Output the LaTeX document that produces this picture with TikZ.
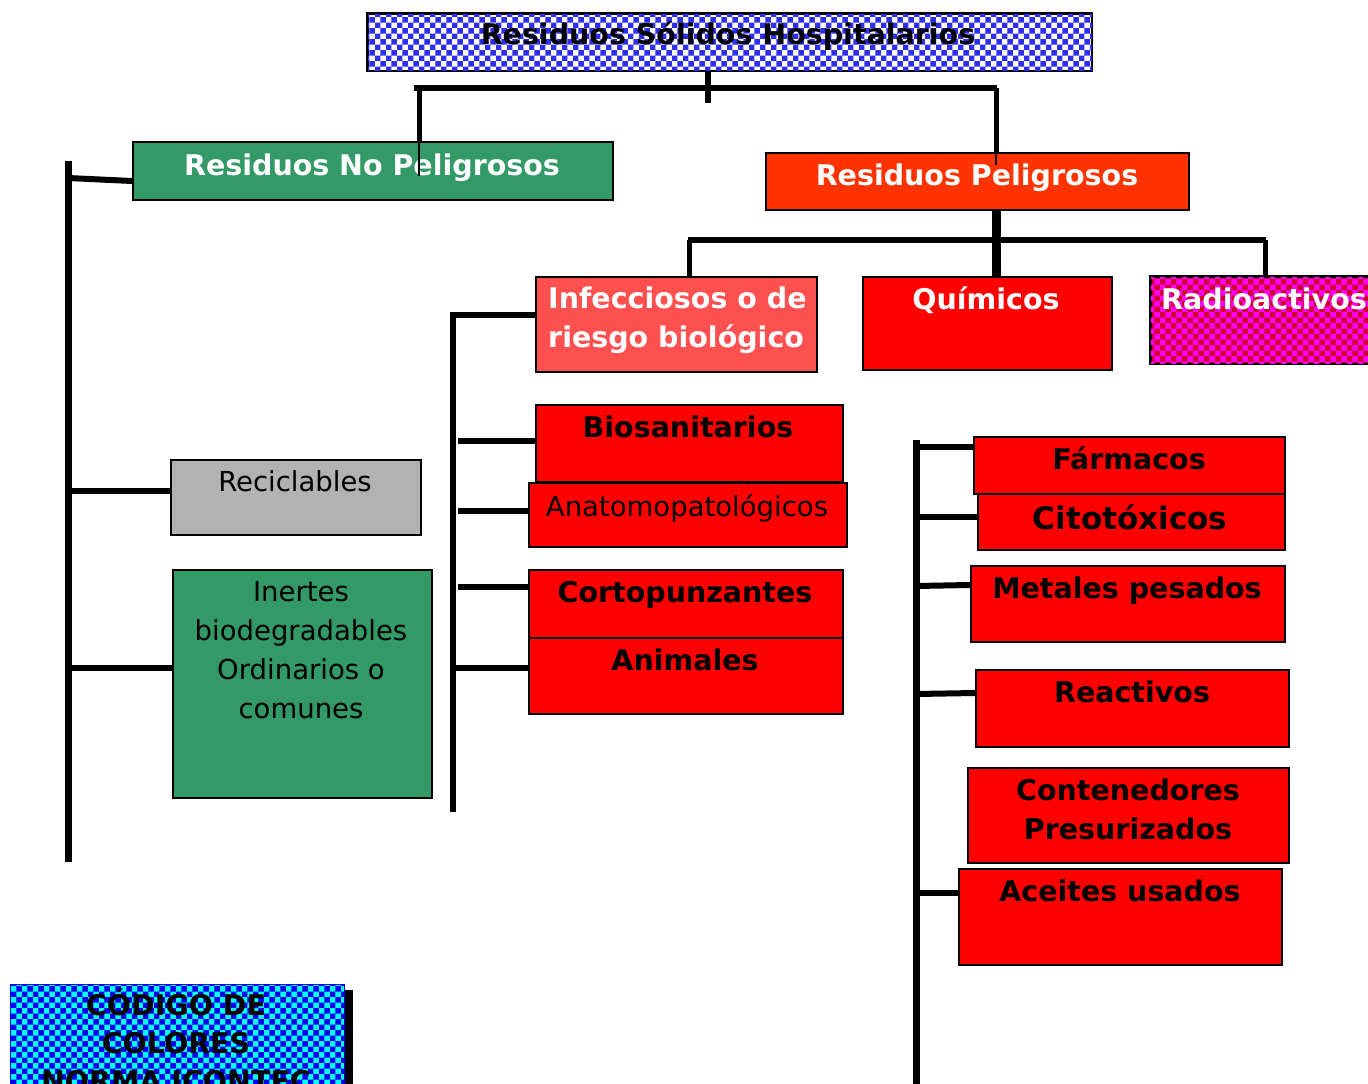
\documentclass[tikz,border=0pt]{standalone}
\usepackage{fontspec}
\setmainfont{DejaVu Sans}
\usetikzlibrary{patterns}
\definecolor{npgreen}{HTML}{339966}
\definecolor{recgray}{HTML}{B2B2B2}
\definecolor{porange}{HTML}{FF3300}
\definecolor{lightred}{HTML}{FF5050}
\definecolor{pred}{HTML}{FF0000}
\definecolor{tblue}{HTML}{2E2EF0}
\definecolor{cblue}{HTML}{0000F0}
\definecolor{ccyan}{HTML}{00FFFF}
\definecolor{rmag}{HTML}{FF00FF}
\definecolor{rred}{HTML}{D00030}
\tikzset{
  box/.style={draw=black, line width=1.5pt, rectangle, anchor=north west, inner sep=0pt},
  conn/.style={draw=black, line width=6pt},
  thinconn/.style={draw=black, line width=1.5pt},
  bl/.style={font=\fontsize{28.5}{39}\selectfont\bfseries, anchor=base, inner sep=0pt},
  rl/.style={font=\fontsize{27.5}{39}\selectfont, anchor=base, inner sep=0pt},
}
\begin{document}
\begin{tikzpicture}[x=1pt,y=-1pt]
\useasboundingbox (0,0) rectangle (1368,1084);
\fill[white] (0,0) rectangle (1368,1084);
\clip (0,0) rectangle (1368,1084);

\coordinate (tA) at (414,88);
\coordinate (tB) at (997,88);
\coordinate (tC) at (708,103);
\coordinate (tL) at (419,88);
\coordinate (tR) at (996,88);

% ---------- top ----------
\node[box, fill=white, minimum width=724pt, minimum height=57pt] (top) at (367,13) {};
\fill[pattern=checkerboard, pattern color=tblue] (top.north west) rectangle (top.south east);
\draw[line width=1.5pt] (top.north west) rectangle (top.south east);
\node[bl] (topT) at (728,44) {Residuos Sólidos Hospitalarios};

\draw[conn] (top.south -| tC) -- (tC);
\draw[conn] (tA) -- (tB);
\draw[line width=5pt] (tL) -- (419,141);
\draw[line width=5pt] (tR) -- (996,152);

\node[box, fill=npgreen, minimum width=480pt, minimum height=58pt] (np) at (132,141) {};
\node[bl, text=white] (npT) at (372,175) {Residuos No Peligrosos};
\draw[thinconn] (np.north -| tL) -- ++(0,35);

\node[box, fill=porange, minimum width=423pt, minimum height=57pt] (pel) at (765,152) {};
\node[bl, text=white] (pelT) at (977,185) {Residuos Peligrosos};
\draw[thinconn] (pel.north -| tR) -- ++(0,13);

\coordinate (pJ) at (996,240);
\coordinate (pL) at (688,240);
\coordinate (pR) at (1266,240);
\draw[line width=9pt] (pel.south -| pJ) -- (996,276);
\draw[conn] (pL) -- (pR);
\draw[line width=5pt] ([xshift=1pt]pL) -- (689,276);
\draw[line width=5pt] ([xshift=-1pt]pR) -- (1265,276);

\node[box, fill=lightred, minimum width=281pt, minimum height=95pt] (inf) at (535,276) {};
\node[font=\fontsize{28.5}{39}\selectfont\bfseries, text=white, align=left, anchor=base west, inner sep=0pt] (infT) at (548,347) {Infecciosos o de\\riesgo biológico};

\node[box, fill=pred, minimum width=249pt, minimum height=93pt] (qui) at (862,276) {};
\node[bl, text=white] (quiT) at (986,309) {Químicos};

\node[box, fill=rred, minimum width=230pt, minimum height=87pt] (rad) at (1150,276) {};
\fill[pattern=checkerboard, pattern color=rmag] (rad.north west) rectangle (rad.south east);
\draw[line width=1.5pt] (rad.north west) rectangle (rad.south east);
\node[bl, text=white, anchor=base west] (radT) at (1161,309) {Radioactivos};

% ---------- No peligrosos branch ----------
\coordinate (nTop) at (68,161);
\coordinate (nBot) at (68,862);
\draw[line width=7pt] (nTop) -- (nBot);
\coordinate (n1) at (68,178);
\coordinate (n2) at (68,491);
\coordinate (n3) at (68,668);

\node[box, fill=recgray, minimum width=250pt, minimum height=75pt] (rec) at (170,459) {};
\node[rl] (recT) at (295,491) {Reciclables};

\node[box, fill=npgreen, minimum width=259pt, minimum height=228pt] (ine) at (172,569) {};
\node[rl, align=center] (ineT) at (301,718) {Inertes\\biodegradables\\Ordinarios o\\comunes};

\draw[conn] (n1) -- (np.west |- 132,181);
\draw[conn] (n2) -- (n2 -| rec.west);
\draw[conn] (n3) -- (n3 -| ine.west);

% ---------- Infecciosos branch ----------
\coordinate (iTop) at (453,315);
\coordinate (iBot) at (453,812);
\draw[conn] (iTop) -- (iBot);
\draw[conn] ([xshift=-3pt]iTop) -- (iTop -| inf.west);
\coordinate (i1) at (458,441);
\coordinate (i2) at (458,511);
\coordinate (i3) at (458,587);
\coordinate (i4) at (453,668);

\node[box, fill=pred, minimum width=307pt, minimum height=77pt] (bio) at (535,404) {};
\node[bl] (bioT) at (688,437) {Biosanitarios};
\node[box, fill=pred, minimum width=318pt, minimum height=64pt] (ana) at (528,482) {};
\node[rl] (anaT) at (687,516) {Anatomopatológicos};
\node[box, fill=pred, minimum width=314pt, minimum height=68pt] (cor) at (528,569) {};
\node[bl] (corT) at (685,602) {Cortopunzantes};
\node[box, fill=pred, minimum width=314pt, minimum height=76pt] (ani) at (528,637) {};
\node[bl] (aniT) at (685,670) {Animales};

\draw[conn] (i1) -- (i1 -| bio.west);
\draw[conn] (i2) -- (i2 -| ana.west);
\draw[conn] (i3) -- (i3 -| cor.west);
\draw[conn] (i4) -- (i4 -| ani.west);

% ---------- Químicos branch ----------
\coordinate (qTop) at (916,440);
\coordinate (qBot) at (916,1084);
\draw[line width=7pt] (qTop) -- (qBot);
\coordinate (q1) at (916,447);
\coordinate (q2) at (916,517);
\coordinate (q3) at (916,586);
\coordinate (q4) at (916,694);
\coordinate (q5) at (916,893);

\node[box, fill=pred, minimum width=311pt, minimum height=57pt] (far) at (973,436) {};
\node[bl] (farT) at (1129,469) {Fármacos};
\node[box, fill=pred, minimum width=307pt, minimum height=56pt] (cit) at (977,493) {};
\node[bl, font=\fontsize{31}{36}\selectfont\bfseries] (citT) at (1130,529) {Citotóxicos};
\node[box, fill=pred, minimum width=314pt, minimum height=76pt] (met) at (970,565) {};
\node[bl] (metT) at (1127,598) {Metales pesados};
\node[box, fill=pred, minimum width=313pt, minimum height=77pt] (rea) at (975,669) {};
\node[bl] (reaT) at (1132,702) {Reactivos};
\node[box, fill=pred, minimum width=321pt, minimum height=95pt] (con) at (967,767) {};
\node[bl, align=center] (conT) at (1128,839) {Contenedores\\Presurizados};
\node[box, fill=pred, minimum width=323pt, minimum height=96pt] (ace) at (958,868) {};
\node[bl] (aceT) at (1120,901) {Aceites usados};

\draw[conn] (q1) -- (q1 -| far.west);
\draw[conn] (q2) -- (q2 -| cit.west);
\draw[conn] (q3) -- (met.west |- 970,585);
\draw[conn] (q4) -- (rea.west |- 975,693);
\draw[conn] (q5) -- (q5 -| ace.west);

% ---------- Código de colores ----------
\fill[black] (18,990) rectangle (353,1090);
\node[box, fill=ccyan, minimum width=333pt, minimum height=110pt, draw=none] (cod) at (10,984) {};
\fill[pattern=checkerboard, pattern color=cblue] (cod.north west) rectangle (cod.south east);
\draw[line width=1pt, cblue] (cod.north west) rectangle (cod.south east);
\node[bl, align=center, font=\fontsize{28.5}{38}\selectfont\bfseries] (codT) at (176,1091) {CÓDIGO DE\\COLORES\\NORMA ICONTEC};
\end{tikzpicture}
\end{document}
